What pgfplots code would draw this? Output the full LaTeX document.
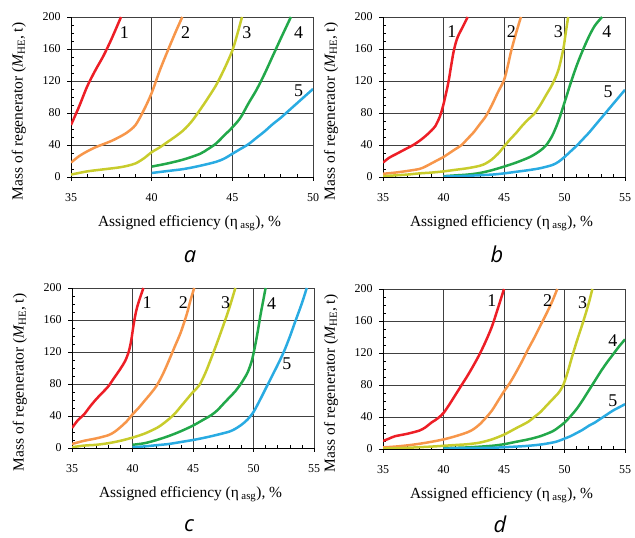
\documentclass[border=0pt]{standalone}
\usepackage{fontspec}
\setmainfont{Liberation Serif}
\newfontfamily\letterfont{Open Sans}
\usepackage{pgfplots}
\pgfplotsset{compat=1.18}

\definecolor{cRed}{RGB}{237,30,38}
\definecolor{cOrange}{RGB}{247,150,74}
\definecolor{cYellow}{RGB}{200,204,44}
\definecolor{cGreen}{RGB}{34,168,74}
\definecolor{cBlue}{RGB}{41,171,226}

\pgfplotsset{
  panel/.style={
    scale only axis, width=242bp, height=160bp,
    xmin=35, ymin=0, ymax=200,
    ytick={0,40,...,200},
    minor y tick num=3, minor x tick num=4,
    grid=major,
    major grid style={black!75, line width=0.7bp},
    axis x line*=bottom, axis y line*=left,
    axis line style={black, line width=0.8bp},
    every tick/.style={black, line width=0.6bp},
    tick align=inside,
    major tick length=-4bp, minor tick length=3bp,
    /pgf/number format/assume math mode=true,
    ticklabel style={font=\fontsize{12}{14}\selectfont},
    xticklabel style={yshift=-13bp},
    yticklabel style={xshift=-7bp},
    label style={font=\fontsize{15.5}{17}\selectfont},
    xlabel={Assigned efficiency (η\,\textsubscript{asg}), \%},
    ylabel={Mass of regenerator ({\itshape M}\textsubscript{HE}, t)},
    xlabel style={at={(axis description cs:0.49,-0.29)}, anchor=center},
    ylabel style={at={(axis description cs:-0.215,0.41)}, anchor=center},
    every axis plot/.style={line width=2.5bp, smooth, tension=0.5},
  },
}
\tikzset{
  curvelabel/.style={font=\fontsize{18}{20}\selectfont, anchor=center},
  panelletter/.style={font=\fontsize{22}{24}\selectfont\letterfont\itshape, anchor=base, inner sep=0pt},
}

\begin{document}
\begin{tikzpicture}[x=1bp,y=1bp]
\useasboundingbox (0,0) rectangle (635,538);

% ---------------- (a) ----------------
\begin{axis}[panel, name=pa, at={(71bp,361bp)}, anchor=south west,
  xmax=50, xtick={35,40,45,50}]
\addplot[cRed] coordinates {(35,65) (35.5,88) (36,113) (36.5,133) (37,151) (37.5,172) (38.1,200)};
\addplot[cOrange] coordinates {(35,18) (35.5,26) (36,32) (36.5,37) (37,41) (37.5,45) (38,50) (38.5,56) (39,65) (39.5,83) (40,105) (40.5,133) (41,158) (41.5,182) (41.9,200)};
\addplot[cYellow] coordinates {(35,3) (36,7) (37,9.5) (38,12) (38.5,14) (39,17) (39.5,23) (40,31) (40.5,37) (41,44) (41.5,51) (42,59) (42.5,70) (43,84) (43.5,99) (44,115) (44.5,135) (45,158) (45.3,178) (45.6,200)};
\addplot[cGreen] coordinates {(40,13) (41,17) (42,22) (43,29) (43.5,35) (44,42) (44.5,52) (45,62) (45.5,74) (46,92) (46.5,109) (47,129) (47.5,151) (48,173) (48.63,200)};
\addplot[cBlue] coordinates {(40,5) (41,7.5) (42,10) (43,14) (44,19) (44.5,23) (45,29) (45.5,35) (46,41) (46.5,49) (47,57) (47.5,66) (48,74) (48.5,83) (49,92) (49.5,101) (50,110)};
\node[curvelabel] at (axis cs:38.3,181) {1};
\node[curvelabel] at (axis cs:42.1,181) {2};
\node[curvelabel] at (axis cs:45.9,181) {3};
\node[curvelabel] at (axis cs:49.1,181) {4};
\node[curvelabel] at (axis cs:49.1,108) {5};
\end{axis}
\node[panelletter] at ([xshift=-2bp,yshift=-86bp]pa.south) {a};

% ---------------- (b) ----------------
\begin{axis}[panel, name=pb, at={(383bp,361bp)}, anchor=south west,
  xmax=55, xtick={35,40,45,50,55}]
\addplot[cRed] coordinates {(35,18) (35.5,24) (36,28) (36.5,32) (37,36) (37.5,40) (38,45) (38.5,51) (39,58) (39.3,63) (39.6,72) (39.8,80) (40,91) (40.2,104) (40.4,118) (40.6,136) (40.8,154) (41,167) (41.2,176) (41.5,185) (42,200)};
\addplot[cOrange] coordinates {(35,4) (36,5.5) (37,7.5) (38,10) (38.5,13) (39,17) (39.5,21) (40,25) (40.5,30) (41,35) (41.5,40) (42,48) (42.5,56) (43,66) (43.5,76) (44,90) (44.5,106) (45,121) (45.3,138) (45.6,158) (46,180) (46.4,200)};
\addplot[cYellow] coordinates {(35,1) (36,2) (37,3) (38,4.5) (39,5.5) (40,7) (41,9) (42,11) (43,14) (43.5,17) (44,22) (44.5,29) (45,38) (45.5,47) (46,55) (46.5,64) (47,72) (47.5,79) (48,90) (48.5,103) (49,116) (49.5,134) (49.9,160) (50.1,180) (50.3,200)};
\addplot[cGreen] coordinates {(40,1) (41,2) (42,3) (43,5) (44,8.5) (45,13) (46,18) (47,24) (47.5,28) (48,33) (48.5,40) (49,52) (49.5,70) (50,93) (50.5,117) (51,139) (51.5,158) (52,175) (52.5,189) (53.1,200)};
\addplot[cBlue] coordinates {(40,0.5) (42,1.5) (44,3) (45,4.5) (46,6.5) (47,8.5) (48,11) (49,15) (49.5,19) (50,25) (50.5,32) (51,39) (51.5,47) (52,55) (52.5,64) (53,73) (53.5,82) (54,91) (54.5,100) (55,109)};
\node[curvelabel] at (axis cs:40.7,182) {1};
\node[curvelabel] at (axis cs:45.6,182) {2};
\node[curvelabel] at (axis cs:49.5,182) {3};
\node[curvelabel] at (axis cs:53.5,182) {4};
\node[curvelabel] at (axis cs:53.6,107) {5};
\end{axis}
\node[panelletter] at ([xshift=-7bp,yshift=-86bp]pb.south) {b};

% ---------------- (c) ----------------
\begin{axis}[panel, name=pc, at={(72bp,90bp)}, anchor=south west,
  xmax=55, xtick={35,40,45,50,55}]
\addplot[cRed] coordinates {(35,25) (35.5,35) (36,42) (36.5,52) (37,61) (37.5,69) (38,77) (38.5,88) (39,99) (39.4,109) (39.7,121) (39.9,135) (40.1,155) (40.3,171) (40.5,182) (40.9,200)};
\addplot[cOrange] coordinates {(35,5) (36,9) (37,12) (38,16) (38.5,20) (39,26) (39.5,33) (40,42) (40.5,50) (41,59) (41.5,68) (42,78) (42.5,92) (43,109) (43.5,127) (44,145) (44.5,168) (44.8,185) (45.1,200)};
\addplot[cYellow] coordinates {(35,1) (36,3) (37,4) (38,6) (39,9) (40,13) (41,18) (42,25) (42.5,30) (43,36) (43.5,43) (44,52) (44.5,61) (45,70) (45.5,78) (46,93) (46.5,112) (47,132) (47.5,153) (48,175) (48.5,200)};
\addplot[cGreen] coordinates {(40,4) (41,6) (42,10) (43,15) (44,21) (45,28) (45.7,34) (46.5,41) (47,47) (47.5,55) (48,63) (48.5,71) (48.9,79) (49.2,86) (49.5,94) (49.8,106) (50,118) (50.2,133) (50.4,150) (50.6,168) (50.8,184) (51,200)};
\addplot[cBlue] coordinates {(40,1) (41,2) (42,3.5) (43,5) (44,7.5) (45,10) (46,13) (47,16.5) (48,20.5) (48.5,24) (49,29) (49.5,35.5) (50,45) (50.5,59) (51,74) (51.5,89) (52,104) (52.5,120) (53,139) (53.4,156) (54,181) (54.4,200)};
\node[curvelabel] at (axis cs:41.2,182) {1};
\node[curvelabel] at (axis cs:44.2,182) {2};
\node[curvelabel] at (axis cs:47.7,182) {3};
\node[curvelabel] at (axis cs:51.5,180) {4};
\node[curvelabel] at (axis cs:52.75,105) {5};
\end{axis}
\node[panelletter] at ([xshift=-4bp,yshift=-84bp]pc.south) {c};

% ---------------- (d) ----------------
\begin{axis}[panel, name=pd, at={(383bp,89bp)}, anchor=south west,
  xmax=55, xtick={35,40,45,50,55}]
\addplot[cRed] coordinates {(35,10) (35.5,13) (36,16) (37,19) (38,23) (38.5,27) (39,33) (39.5,38) (40,45) (40.5,56) (41,68) (41.5,80) (42,92) (42.5,105) (43,119) (43.5,135) (44,153) (44.5,176) (45,200)};
\addplot[cOrange] coordinates {(35,2) (36,3) (37,4.5) (38,6.5) (39,9) (40,12) (41,16) (42,21) (42.5,25) (43,31) (43.5,39) (44,48) (44.5,60) (45,72) (45.5,83) (46,96) (46.5,110) (47,125) (47.5,139) (48,154) (48.5,169) (49,185) (49.4,200)};
\addplot[cYellow] coordinates {(35,0.5) (37,1.5) (39,3) (40,4) (41,5) (42,6) (43,8) (44,12) (45,18) (46,26) (47,34) (47.5,40) (48,46) (48.5,54) (49,62) (49.5,70) (49.8,77) (50,84) (50.3,98) (50.6,114) (51,134) (51.5,157) (52,182) (52.3,200)};
\addplot[cGreen] coordinates {(40,1) (42,2) (44,4) (45,6) (46,9) (47,12) (48,16) (49,22) (49.5,27) (50,33) (50.5,41) (51,50) (51.5,61) (52,73) (52.5,85) (53,97) (53.5,108) (54,118) (54.5,128) (55,137)};
\addplot[cBlue] coordinates {(40,0.5) (42,1) (44,1.5) (46,3) (47,4) (48,5.5) (49,8) (49.5,10) (50,13) (50.5,16) (51,20) (51.5,24) (52,29) (52.5,33) (53,38) (53.5,43) (54,48) (54.5,52) (55,56)};
\node[curvelabel] at (axis cs:44.0,185) {1};
\node[curvelabel] at (axis cs:48.6,185) {2};
\node[curvelabel] at (axis cs:51.5,183) {3};
\node[curvelabel] at (axis cs:54.0,135) {4};
\node[curvelabel] at (axis cs:54.0,60) {5};
\end{axis}
\node[panelletter] at ([xshift=-4bp,yshift=-84bp]pd.south) {d};
\end{tikzpicture}
\end{document}
